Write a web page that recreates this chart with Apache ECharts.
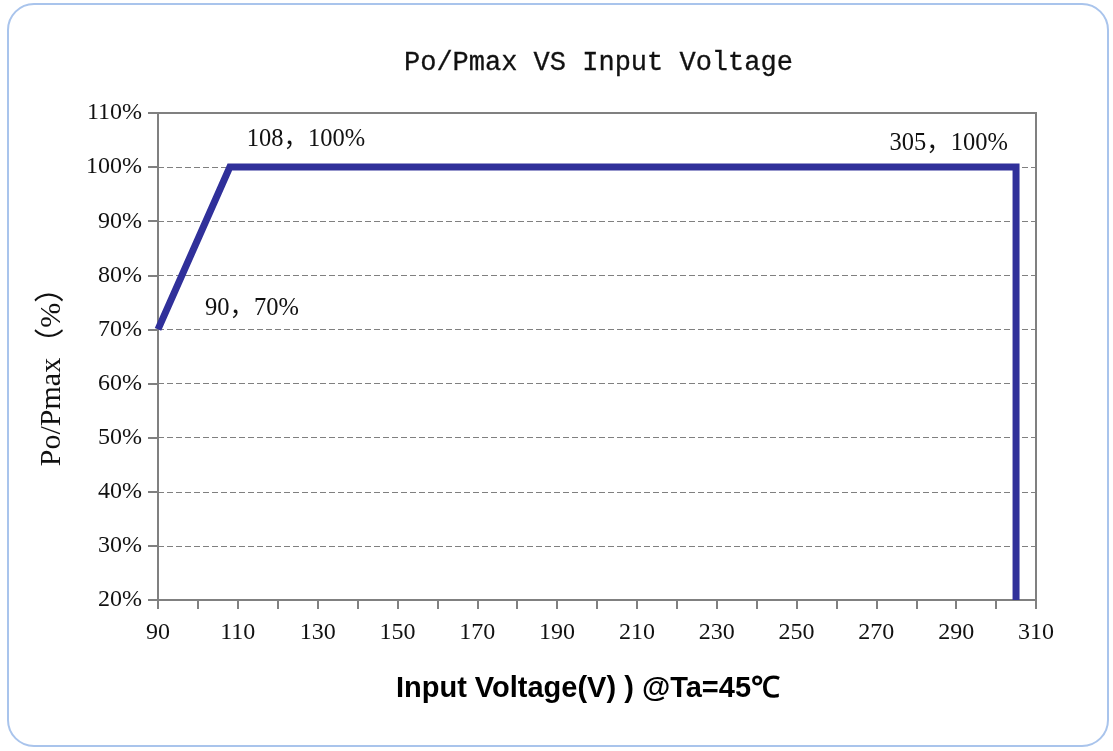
<!DOCTYPE html>
<html>
<head>
<meta charset="utf-8">
<script src="https://cdn.jsdelivr.net/npm/echarts@6/dist/echarts.min.js"></script>
<style>
  html, body { margin: 0; padding: 0; background: #fff; }
  #chart { width: 1113px; height: 751px; }
</style>
</head>
<body>
<div id="chart"></div>
<script>
// derating curve: input voltage (V) vs Po/Pmax (%)
var voltage = [90, 108, 305, 305];
var ratio = [70, 100, 100, 20];
var pointLabels = ['90，70%', '108，100%', '305，100%', ''];

var xTicks = { min: 90, max: 310, step: 20 };
var yTicks = { min: 20, max: 110, step: 10 };

var serif = '"Liberation Serif", "Noto Sans CJK SC", serif';

// where each point label goes, relative to its point
var labelPlace = [
  { pos: [47, -21], align: 'left' },
  { pos: [17, -27], align: 'left' },
  { pos: [-8, -23], align: 'right' },
  null
];

var lineData = voltage.map(function (v, i) {
  var item = { value: [v, ratio[i]] };
  var p = labelPlace[i];
  if (p && pointLabels[i]) {
    item.label = {
      show: true,
      formatter: pointLabels[i],
      position: p.pos,
      align: p.align,
      verticalAlign: 'middle',
      fontFamily: serif,
      fontSize: 24.5,
      color: '#111'
    };
  }
  return item;
});

var myChart = echarts.init(document.getElementById('chart'));
myChart.setOption({
  backgroundColor: '#fff',
  animation: false,
  graphic: [{
    type: 'rect',
    shape: { x: 8, y: 4, width: 1100, height: 742, r: 26 },
    style: { fill: 'none', stroke: '#a9c4ec', lineWidth: 2 },
    z: -1
  }],
  title: {
    text: 'Po/Pmax VS Input Voltage',
    left: 399,
    top: 44,
    textStyle: {
      fontFamily: '"Liberation Mono", monospace',
      fontWeight: 'normal',
      fontSize: 27,
      color: '#111',
      textBorderColor: '#111',
      textBorderWidth: 0.3
    }
  },
  grid: {
    left: 158, right: 77, top: 113, bottom: 151,
    show: true,
    borderColor: '#808080',
    borderWidth: 2,
    containLabel: false
  },
  xAxis: {
    type: 'value',
    min: xTicks.min,
    max: xTicks.max,
    interval: xTicks.step,
    name: 'Input Voltage(V) ) @Ta=45℃',
    nameLocation: 'middle',
    nameGap: 74,
    nameTextStyle: {
      fontFamily: '"Liberation Sans", Arial, sans-serif',
      fontWeight: 'bold',
      fontSize: 29,
      color: '#000',
      padding: [0, 18, 0, 0]
    },
    axisLine: { show: true, lineStyle: { color: '#808080', width: 2 } },
    axisTick: { show: true, inside: false, length: 9, lineStyle: { color: '#808080', width: 2 } },
    minorTick: { show: true, splitNumber: 2, length: 9, lineStyle: { color: '#808080', width: 2 } },
    axisLabel: { margin: 21, fontFamily: serif, fontSize: 24, color: '#111' },
    splitLine: { show: false }
  },
  yAxis: {
    type: 'value',
    min: yTicks.min,
    max: yTicks.max,
    interval: yTicks.step,
    name: 'Po/Pmax（%）',
    nameLocation: 'middle',
    nameGap: 91,
    nameRotate: 90,
    nameTextStyle: {
      fontFamily: serif,
      fontSize: 30,
      color: '#111',
      padding: [0, 26, 0, 0]
    },
    axisLine: { show: true, lineStyle: { color: '#808080', width: 2 } },
    axisTick: { show: true, inside: false, length: 10, lineStyle: { color: '#808080', width: 2 } },
    axisLabel: {
      margin: 16,
      fontFamily: serif,
      fontSize: 24,
      color: '#111',
      formatter: function (v) { return v + '%'; }
    },
    splitLine: { show: true, lineStyle: { color: '#808080', type: [6, 3], width: 1.2 } }
  },
  series: [{
    type: 'line',
    data: lineData,
    symbol: 'circle',
    symbolSize: 0.1,
    showSymbol: true,
    itemStyle: { color: '#30309a' },
    lineStyle: { color: '#30309a', width: 7, join: 'miter' },
    z: 5
  }]
});
</script>
</body>
</html>
